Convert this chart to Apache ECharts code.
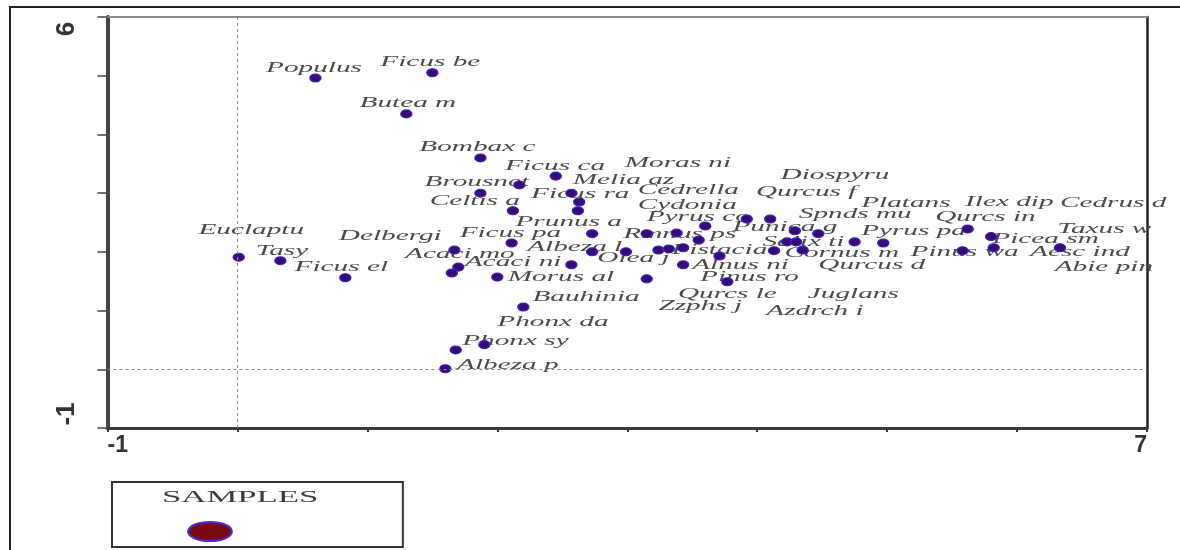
<!DOCTYPE html>
<html>
<head>
<meta charset="utf-8">
<script src="https://cdn.jsdelivr.net/npm/echarts@6/dist/echarts.min.js"></script>
<style>
  html, body { margin: 0; padding: 0; background: #fff; }
  #chart { width: 1180px; height: 550px; }
</style>
</head>
<body>
<div id="chart"></div>
<script>
// ---- data ----
const sampleX = [0.60, 1.50, 1.30, 1.87, 2.17, 2.45, 1.87, 2.57, 2.63, 2.12, 2.62, 2.73, 2.11, 1.67, 1.70, 1.65, 2.00, 2.57, 2.73, 2.99, 3.15, 3.38, 3.55, 3.60, 3.92, 4.10, 3.24, 3.32, 3.43, 3.71, 3.43, 3.15, 3.77, 4.29, 4.47, 4.13, 4.23, 4.30, 4.35, 4.75, 4.97, 5.62, 5.80, 5.58, 5.82, 6.33, 2.20, 1.90, 1.68, 1.60, 0.01, 0.33, 0.83];
const sampleY = [4.96, 5.05, 4.35, 3.60, 3.14, 3.29, 3.00, 3.00, 2.85, 2.70, 2.70, 2.31, 2.15, 2.03, 1.74, 1.64, 1.57, 1.78, 2.00, 2.00, 2.31, 2.32, 2.20, 2.44, 2.56, 2.56, 2.03, 2.05, 2.07, 1.93, 1.78, 1.54, 1.49, 2.36, 2.31, 2.02, 2.17, 2.17, 2.03, 2.17, 2.15, 2.39, 2.26, 2.02, 2.07, 2.07, 1.06, 0.42, 0.33, 0.01, 1.91, 1.85, 1.56];

const labelNames = ['Populus', 'Ficus be', 'Butea m', 'Bombax c', 'Ficus ca', 'Moras ni', 'Melia az', 'Brousnet', 'Ficus ra', 'Cedrella', 'Diospyru', 'Qurcus f', 'Celtis a', 'Cydonia', 'Platans', 'Ilex dip', 'Cedrus d', 'Spnds mu', 'Qurcs in', 'Prunus a', 'Pyrus co', 'Punica g', 'Taxus w', 'Pyrus pa', 'Ficus pa', 'Delbergi', 'Rmnus ps', 'Albeza l', 'Acaci mo', 'Euclaptu', 'Tasy', 'Ficus el', 'Acaci ni', 'Olea j', 'Pistacia', 'Salix ti', 'Cornus m', 'Pinus wa', 'Aesc ind', 'Picea sm', 'Abie pin', 'Qurcus d', 'Alnus ni', 'Morus al', 'Pinus ro', 'Zzphs j', 'Qurcs le', 'Juglans', 'Azdrch i', 'Bauhinia', 'Phonx da', 'Phonx sy', 'Albeza p'];
const labelX = [0.22, 1.10, 0.94, 1.40, 2.06, 2.98, 2.58, 1.44, 2.26, 3.08, 4.18, 3.99, 1.48, 3.08, 4.80, 5.60, 6.33, 4.32, 5.37, 2.14, 3.15, 3.81, 6.31, 4.80, 1.71, 0.78, 2.97, 2.23, 1.29, -0.30, 0.14, 0.44, 1.75, 2.77, 3.34, 4.04, 4.21, 5.18, 6.10, 5.81, 6.29, 4.47, 3.50, 2.08, 3.56, 3.24, 3.39, 4.39, 4.07, 2.27, 2.00, 1.73, 1.69];
const labelY = [5.13, 5.24, 4.54, 3.79, 3.46, 3.52, 3.23, 3.19, 2.99, 3.06, 3.31, 3.01, 2.87, 2.80, 2.83, 2.85, 2.83, 2.65, 2.60, 2.51, 2.60, 2.43, 2.39, 2.36, 2.32, 2.27, 2.31, 2.09, 1.97, 2.37, 2.02, 1.74, 1.83, 1.90, 2.03, 2.17, 1.98, 2.00, 2.00, 2.22, 1.74, 1.78, 1.78, 1.57, 1.57, 1.08, 1.28, 1.28, 1.00, 1.23, 0.81, 0.48, 0.08];

const xRange = [-1, 7];
const yRange = [-1, 6];
const xTickLabels = [-1, 7];
const yTickLabels = [-1, 6];
const legendName = 'SAMPLES';

// ---- chart ----
const chart = echarts.init(document.getElementById('chart'), null, { renderer: 'canvas' });

const option = {
  backgroundColor: '#fff',
  animation: false,
  grid: { left: 107.5, right: 33, top: 17, bottom: 122, containLabel: false },
  xAxis: [
    {
      type: 'value', min: xRange[0], max: xRange[1], interval: 1,
      axisLine: { show: true, onZero: false, lineStyle: { color: '#3a3a3a', width: 3 } },
      axisTick: { show: true, length: 4, lineStyle: { color: '#3a3a3a', width: 2 } },
      splitLine: { show: false },
      axisLabel: {
        margin: 6, fontSize: 23, fontWeight: 'bold', color: '#333', fontFamily: 'Liberation Sans',
        alignMinLabel: 'left', alignMaxLabel: 'right',
        formatter: v => xTickLabels.indexOf(v) >= 0 ? String(v) : ''
      }
    },
    {
      type: 'value', position: 'top', min: xRange[0], max: xRange[1],
      axisLine: { show: true, onZero: false, lineStyle: { color: '#8a8a8a', width: 2 } },
      axisTick: { show: false }, axisLabel: { show: false }, splitLine: { show: false }
    }
  ],
  yAxis: [
    {
      type: 'value', min: yRange[0], max: yRange[1], interval: 1,
      axisLine: { show: true, onZero: false, lineStyle: { color: '#444', width: 4 } },
      axisTick: { show: true, length: 10, lineStyle: { color: '#444', width: 1.5 } },
      splitLine: { show: false },
      axisLabel: {
        rotate: 90, margin: 28, fontSize: 26, fontWeight: 'bold', color: '#333', fontFamily: 'Liberation Sans',
        formatter: v => {
          if (yTickLabels.indexOf(v) < 0) return '';
          return v === yRange[1] ? '{top|' + v + '}' : '{bot|' + v + '}';
        },
        rich: {
          top: { fontSize: 26, fontWeight: 'bold', color: '#333', fontFamily: 'Liberation Sans', padding: [0, 24, 0, 0] },
          bot: { fontSize: 26, fontWeight: 'bold', color: '#333', fontFamily: 'Liberation Sans', padding: [0, 0, 0, 28] }
        }
      }
    },
    {
      type: 'value', position: 'right', min: yRange[0], max: yRange[1],
      axisLine: { show: true, onZero: false, lineStyle: { color: '#222', width: 2.5 } },
      axisTick: { show: false }, axisLabel: { show: false }, splitLine: { show: false }
    }
  ],
  legend: {
    show: true,
    left: 112, top: 482,
    orient: 'horizontal',
    padding: [39, 170, 5, 75],
    borderColor: '#333', borderWidth: 2,
    itemWidth: 46, itemHeight: 19,
    textStyle: { fontSize: 10, color: '#444' },
    formatter: () => '',
    data: [{
      name: legendName,
      icon: 'path://M0 10 A23 10 0 1 0 46 10 A23 10 0 1 0 0 10 Z',
      itemStyle: { color: '#7a0a12', borderColor: '#4a2ad8', borderWidth: 2 }
    }]
  },
  graphic: [
    {
      type: 'rect', silent: true, z: 0,
      shape: { x: 10, y: 7, width: 1400, height: 800 },
      style: { fill: 'none', stroke: '#222', lineWidth: 2 }
    },
    {
      type: 'text', silent: true, x: 162, y: 498, scaleX: 2.17,
      style: { text: legendName, font: '16px "Liberation Serif"', fill: '#3c3c3c', verticalAlign: 'middle', align: 'left' }
    }
  ],
  series: [
    {
      name: 'labels',
      type: 'custom',
      z: 1,
      silent: true,
      encode: { x: 0, y: 1 },
      data: labelX.map((x, i) => [x, labelY[i]]),
      renderItem: function (params, api) {
        const p = api.coord([api.value(0), api.value(1)]);
        return {
          type: 'text',
          x: p[0], y: p[1],
          scaleX: 1.95,
          style: {
            text: labelNames[params.dataIndex],
            font: 'italic 15px "Liberation Serif"',
            fill: '#4a4a4a',
            align: 'left',
            verticalAlign: 'middle'
          }
        };
      }
    },
    {
      name: legendName,
      type: 'scatter',
      z: 3,
      symbol: 'circle',
      symbolSize: [11, 8],
      data: sampleX.map((x, i) => [x, sampleY[i]]),
      itemStyle: { color: '#3a0a70', borderColor: '#3522c8', borderWidth: 1.2, opacity: 1 },
      markLine: {
        silent: true,
        symbol: ['none', 'none'],
        label: { show: false },
        lineStyle: { type: [3, 3], color: '#8c8c8c', width: 1 },
        data: [{ xAxis: 0 }, { yAxis: 0 }]
      }
    }
  ]
};

chart.setOption(option);
</script>
</body>
</html>
